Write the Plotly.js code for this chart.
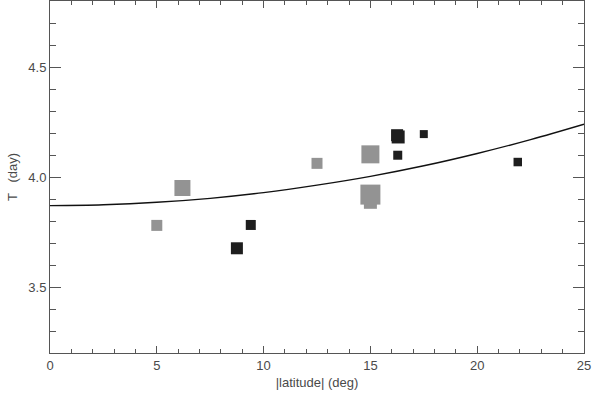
<!DOCTYPE html>
<html>
<head>
<meta charset="utf-8">
<script src="https://cdn.plot.ly/plotly-3.0.1.min.js"></script>
<style>
  html, body { margin: 0; padding: 0; background: #fff; }
  #fig { width: 592px; height: 395px; }
</style>
</head>
<body>
<div id="fig"></div>
<script>
// grey squares (one group of measurements)
var greyLat  = [5.0, 6.2, 12.5, 15.0, 15.0, 15.0];
var greyT    = [3.78, 3.95, 4.062, 4.103, 3.885, 3.92];
var greySize = [11, 16, 11, 18, 13, 20];

// black squares (other group)
var blackLat  = [8.75, 9.4, 16.25, 16.3, 16.28, 17.5, 21.9];
var blackT    = [3.676, 3.782, 4.19, 4.182, 4.099, 4.195, 4.068];
var blackSize = [12, 10, 12, 13, 9, 8, 8.5];

// fitted curve
var fitLat = [0, 2.5, 5, 7.5, 10, 12.5, 15, 17.5, 20, 22.5, 25];
var fitT   = [3.870, 3.874, 3.885, 3.903, 3.929, 3.963, 4.003, 4.051, 4.107, 4.170, 4.240];

var txtFont = {family: 'Liberation Sans, Arial, sans-serif', size: 13, color: '#4a4a4a'};

var traces = [
  {x: fitLat, y: fitT, type: 'scatter', mode: 'lines',
   line: {color: '#111', width: 1.4, shape: 'spline'}, hoverinfo: 'skip'},
  {x: greyLat, y: greyT, type: 'scatter', mode: 'markers',
   marker: {symbol: 'square', size: greySize, color: '#939393', opacity: 1, line: {width: 0}}},
  {x: blackLat, y: blackT, type: 'scatter', mode: 'markers',
   marker: {symbol: 'square', size: blackSize, color: '#1e1e1e', opacity: 1, line: {width: 0}}}
];

var axisBase = {
  showgrid: false, zeroline: false, showline: true, mirror: 'ticks',
  linecolor: '#555', linewidth: 1, ticks: 'inside', tickcolor: '#555',
  tickwidth: 1, tickfont: txtFont
};

var layout = {
  width: 592, height: 395,
  margin: {l: 50, r: 8, t: 1, b: 42},
  paper_bgcolor: '#fff', plot_bgcolor: '#fff',
  showlegend: false,
  xaxis: Object.assign({}, axisBase, {
    range: [0, 25], dtick: 5, ticklen: 7,
    minor: {dtick: 1, ticklen: 4, ticks: 'inside', tickcolor: '#555', showgrid: false},
    title: {text: '|latitude| (deg)', font: txtFont, standoff: 6}
  }),
  yaxis: Object.assign({}, axisBase, {
    range: [3.2, 4.8], dtick: 0.5, tick0: 3.5, ticklen: 11,
    tickformat: '.1f',
    minor: {dtick: 0.1, ticklen: 6, ticks: 'inside', tickcolor: '#555', showgrid: false},
    title: {text: 'T   (day)', font: txtFont, standoff: 7}
  })
};

Plotly.newPlot('fig', traces, layout, {staticPlot: true});
</script>
</body>
</html>
